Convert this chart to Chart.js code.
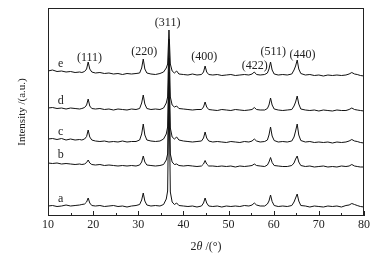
<!DOCTYPE html>
<html>
<head>
<meta charset="utf-8">
<style>
  body { margin: 0; background: #fff; }
  #wrap { width: 389px; height: 258px; }
</style>
<script src="https://cdn.jsdelivr.net/npm/chart.js@4.4.1/dist/chart.umd.min.js"></script>
</head>
<body>
<div id="wrap"><canvas id="myChart" width="389" height="258"></canvas></div>
<script>
// 2theta grid shared by all patterns
const twoTheta = [10, 11, 12, 13, 14, 15, 16, 17, 17.5, 18.1, 18.55, 18.9, 19.25, 19.7,
  20.5, 21.5, 22.5, 23.5, 24.5, 25.5, 26.5, 27.5, 28.5, 29.5,
  30.3, 30.75, 31.1, 31.45, 31.9, 32.8, 33.8, 34.8,
  35.6, 36.2, 36.5, 36.8, 37.1, 37.5, 38.0, 38.5, 39.0,
  40, 41, 42, 43, 44.0, 44.45, 44.8, 45.15, 45.6,
  46.5, 47.5, 48.5, 49.5, 50.5, 51.5, 52.5, 53.5, 54.5,
  55.2, 55.7, 56.2, 57, 58.0, 58.6, 58.95, 59.3, 59.65, 60.1,
  61, 62, 63, 64.0, 64.5, 64.85, 65.2, 65.55, 66.0,
  67, 68, 69, 70, 71, 72, 73, 74, 75, 76, 76.7, 77.3, 77.9, 78.5, 79.2, 80];

// intensities (a.u.) above each pattern's own baseline
const patternA = [1, 1.5, 0.5, 1, 2, 1, 1.5, 2, 2.5, 3, 5, 9, 4, 1.5,
  1, 1.5, 0.5, 1, 1.5, 0.5, 1, 0, 1, 1.5,
  2.5, 7, 14, 6, 2, 1, 1.5, 1,
  2.5, 8, 16, 120, 15, 5, 2.5, 4, 1.5,
  1, 0.5, 1, 0, 1, 4, 9, 4, 1,
  0.5, 1, 0, 1, 0.5, 1, 0.5, 1.5, 1,
  2, 4, 2, 1, 1, 3, 6, 12, 5.5, 1.5,
  0.5, 1, 0.5, 1.5, 5, 9, 13, 6, 1.5,
  1, 0, 1, 0.5, 0, 1, 0.5, 1, 0, 1.5, 2, 3.5, 2.5, 1.5, 0.5, 0];
const patternB = [4, 3.5, 4, 3, 3.5, 3, 2.5, 3, 2.5, 3, 4.5, 7, 4, 2.5,
  2, 2.5, 1.5, 2, 1.5, 1, 1.5, 1, 1.5, 1,
  2, 5, 11, 5, 2, 1.5, 1, 1.5,
  2.5, 7, 13, 95, 13, 5, 2.5, 3, 1.5,
  1, 1.5, 1, 0.5, 1, 3, 6.5, 3, 1,
  1, 0.5, 1, 0.5, 1, 0, 1, 0.5, 1,
  1.5, 3, 1.5, 1, 0.5, 2, 5, 9.5, 4.5, 1.5,
  1, 0.5, 0.5, 1.5, 4, 8, 11, 5, 1.5,
  0.5, 1, 0, 0.5, 1, 0, 0.5, 0, 1, 0.5, 1, 2.5, 1, 0.5, 0, 0];
const patternC = [4, 4.5, 3.5, 4.5, 3, 4, 3, 3.5, 3, 4, 6.5, 13, 6, 3,
  2, 1.5, 2, 1, 1.5, 1, 2, 1, 1.5, 1.5,
  3, 9, 19, 8, 3, 2, 1.5, 2,
  4, 9, 16, 85, 15, 6, 4, 6, 3,
  2, 1.5, 1, 1.5, 2, 5, 11, 5, 2,
  1, 1.5, 1, 0.5, 1.5, 1, 0.5, 1.5, 1,
  2, 4, 2, 1, 1.5, 3, 8, 16, 7, 2.5,
  1, 1.5, 1, 2, 6, 12, 19, 8, 2.5,
  1, 1.5, 0.5, 1, 0.5, 1, 0, 1, 0.5, 1, 2, 3.5, 2, 1.5, 0.5, 0];
const patternD = [3, 3.5, 2.5, 3, 2, 3, 2.5, 2, 2.5, 3.5, 6, 12, 5, 2.5,
  2, 2.5, 1.5, 2, 1, 2, 1.5, 1, 2, 1.5,
  2.5, 8, 16, 7, 2.5, 1.5, 2, 1.5,
  3, 8, 14, 72, 14, 6, 4, 5, 2.5,
  2, 1.5, 1, 1.5, 1.5, 4, 9, 4, 1.5,
  1, 0.5, 1.5, 1, 0.5, 1.5, 1, 0.5, 1,
  1.5, 3.5, 1.5, 1, 1, 2.5, 6, 13, 6, 2,
  1, 0.5, 1, 1.5, 5, 9, 15, 7, 2,
  1, 0.5, 1, 0, 1, 0.5, 0, 1, 0.5, 0.5, 1.5, 3, 1.5, 1, 0.5, 0];
const patternE = [5, 6, 4.5, 5, 4, 4.5, 3.5, 4, 3.5, 4.5, 7, 14, 7, 4,
  3, 3.5, 2.5, 3, 2, 2.5, 1.5, 2.5, 2, 2.5,
  3, 8, 17, 7, 3, 2, 1.5, 2.5,
  4, 8, 12, 46, 12, 5, 3, 5, 2,
  1.5, 1, 2, 1, 1.5, 4, 10, 4, 1.5,
  1, 1.5, 0.5, 1, 1.5, 0.5, 1, 1.5, 1,
  2, 4, 1.5, 1, 1.5, 3, 7, 14, 6, 2,
  1, 1.5, 1, 2, 6, 10, 16, 7, 2.5,
  1, 1.5, 0.5, 1, 0, 1, 0.5, 1, 0.5, 1, 2, 3.5, 2, 1.5, 0.5, 0];

const sampleNames = ["a", "b", "c", "d", "e"];
const sampleOffsets = [9, 49, 73, 105, 140];
const patterns = [patternA, patternB, patternC, patternD, patternE];

const xTicks = [10, 20, 30, 40, 50, 60, 70, 80];
const xMinorTicks = [15, 25, 35, 45, 55, 65, 75];

const peakLabels = ["(111)", "(220)", "(311)", "(400)", "(422)", "(511)", "(440)"];
const peakLabelX = [19.2, 31.3, 36.5, 44.6, 55.8, 59.9, 66.4];
const peakLabelY = [158, 164, 193, 159, 150, 164, 161];

const SERIF = "'Liberation Serif', 'DejaVu Serif', serif";

const decor = {
  id: "decor",
  afterDraw(chart) {
    const c = chart.ctx;
    const a = chart.chartArea;
    const xs = chart.scales.x;
    const ys = chart.scales.y;
    c.save();
    c.strokeStyle = "#222";
    c.lineWidth = 1;
    c.strokeRect(a.left + 0.5, a.top + 0.5, a.right - a.left - 1, a.bottom - a.top - 1);

    // inward ticks on the bottom axis
    c.beginPath();
    xTicks.forEach((t) => {
      const px = Math.round(xs.getPixelForValue(t)) + 0.5;
      c.moveTo(px, a.bottom);
      c.lineTo(px, a.bottom - 5);
    });
    xMinorTicks.forEach((t) => {
      const px = Math.round(xs.getPixelForValue(t)) + 0.5;
      c.moveTo(px, a.bottom);
      c.lineTo(px, a.bottom - 3);
    });
    c.stroke();

    c.fillStyle = "#222";
    c.font = "12px " + SERIF;
    c.textAlign = "center";
    c.textBaseline = "middle";
    xTicks.forEach((t) => {
      c.fillText(String(t), xs.getPixelForValue(t), a.bottom + 9);
    });

    // peak indices
    peakLabels.forEach((s, i) => {
      c.fillText(s, xs.getPixelForValue(peakLabelX[i]), ys.getPixelForValue(peakLabelY[i]));
    });

    // sample letters
    sampleNames.forEach((s, i) => {
      const y0 = sampleOffsets[i] + patterns[i][2] + 8;
      c.fillText(s, xs.getPixelForValue(12.8), ys.getPixelForValue(y0));
    });

    // x title: 2θ /(°)
    c.textAlign = "left";
    const parts = [["2", "12px "], ["θ", "italic 12px "], [" /(°)", "12px "]];
    let w = 0;
    parts.forEach((p) => { c.font = p[1] + SERIF; w += c.measureText(p[0]).width; });
    let x0 = (a.left + a.right) / 2 - w / 2;
    parts.forEach((p) => {
      c.font = p[1] + SERIF;
      c.fillText(p[0], x0, 247);
      x0 += c.measureText(p[0]).width;
    });

    // y title
    c.translate(22, (a.top + a.bottom) / 2);
    c.rotate(-Math.PI / 2);
    c.textAlign = "center";
    c.font = "11px " + SERIF;
    c.fillText("Intensity /(a.u.)", 0, 0);
    c.restore();
  },
};

const ctx = document.getElementById("myChart");

new Chart(ctx, {
  type: "line",
  data: {
    datasets: patterns.map((vals, i) => ({
      label: sampleNames[i],
      data: twoTheta.map((t, j) => ({ x: t, y: sampleOffsets[i] + vals[j] })),
      borderColor: "#111",
      borderWidth: 1,
      pointRadius: 0,
      tension: 0,
    })),
  },
  options: {
    responsive: false,
    animation: false,
    devicePixelRatio: 1,
    layout: { padding: { left: 48, top: 8, right: 25, bottom: 42 } },
    plugins: { legend: { display: false }, tooltip: { enabled: false } },
    scales: {
      x: { type: "linear", min: 10, max: 80, display: false },
      y: { min: 0, max: 208, display: false },
    },
  },
  plugins: [decor],
});
</script>
</body>
</html>
